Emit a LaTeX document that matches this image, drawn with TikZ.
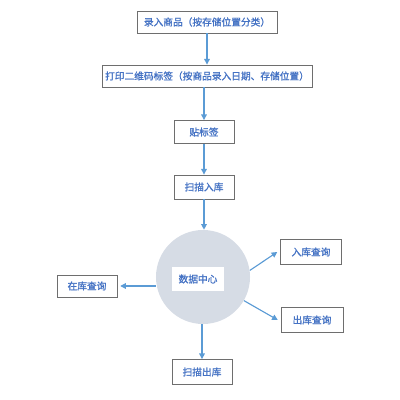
\documentclass[tikz,border=0pt]{standalone}
\usepackage{fontspec}
\newfontfamily\cjk[FakeBold=1.2]{Noto Sans CJK SC}
\usepackage{tikz}
\usetikzlibrary{arrows.meta, positioning, shapes.geometric}
\definecolor{grisBorde}{RGB}{110,110,110}
\definecolor{azulTexto}{RGB}{68,114,196}
\definecolor{azulFlecha}{RGB}{91,155,213}
\definecolor{grisCirculo}{RGB}{214,220,229}
\tikzset{
  lc/box/.style={rectangle, draw=grisBorde, fill=white,
    minimum height=5.5mm, inner sep=2pt, line width=0.6pt,
    font=\cjk\fontsize{6.9}{8}\selectfont\color{azulTexto}, align=center},
  lc/circ/.style={circle, fill=grisCirculo, draw=none, minimum size=23.5mm},
  lc/core/.style={rectangle, fill=white, minimum width=12.75mm,
    minimum height=6mm, font=\cjk\fontsize{6.9}{8}\selectfont\color{azulTexto}},
  lc/arr/.style={-{Triangle[length=4pt,width=4pt]}, line width=0.8pt,
    draw=azulFlecha}
}
\begin{document}
\begin{tikzpicture}[x=0.025cm, y=-0.025cm]
    \useasboundingbox (0,0) rectangle (400,400);
    % flujo principal
    \node[lc/box, minimum width=35mm] (lr) at (207,22) {录入商品（按存储位置分类）};
    \node[lc/box, minimum width=52.5mm] (dy) at (207,76) {打印二维码标签（按商品录入日期、存储位置）};
    \node[lc/box, minimum width=15mm, minimum height=5.75mm] (tb) at (204,132) {贴标签};
    \node[lc/box, minimum width=15mm, minimum height=6mm] (sr) at (204,187) {扫描入库};
    \node[lc/circ] (dc) at (203,277) {};
    \node[lc/core] (sj) at (198,279) {数据中心};
    \node[lc/box, minimum width=15mm] (zk) at (87,286) {在库查询};
    \node[lc/box, minimum width=15.25mm, minimum height=6.25mm] (rk) at (311,252) {入库查询};
    \node[lc/box, minimum width=15.5mm, minimum height=6.25mm] (ck) at (312,320) {出库查询};
    \node[lc/box, minimum width=15mm, minimum height=6.25mm] (sc) at (202,372) {扫描出库};
    % flechas
    \draw[lc/arr] (lr) -- (dy);
    \draw[lc/arr] (dy.south -| tb) -- (tb);
    \draw[lc/arr] (tb) -- (sr);
    \draw[lc/arr] (sr.south) -- (sr.south |- dc.north);
    \draw[lc/arr] (dc.west |- zk.east) -- ([xshift=2pt]zk.east);
    \draw[lc/arr] (dc.8) -- ([xshift=-2pt]rk.west);
    \draw[lc/arr] (dc.-30) -- ([xshift=-2pt]ck.west);
    \draw[lc/arr] (dc.south -| sc) -- (sc);
  \end{tikzpicture}
\end{document}
